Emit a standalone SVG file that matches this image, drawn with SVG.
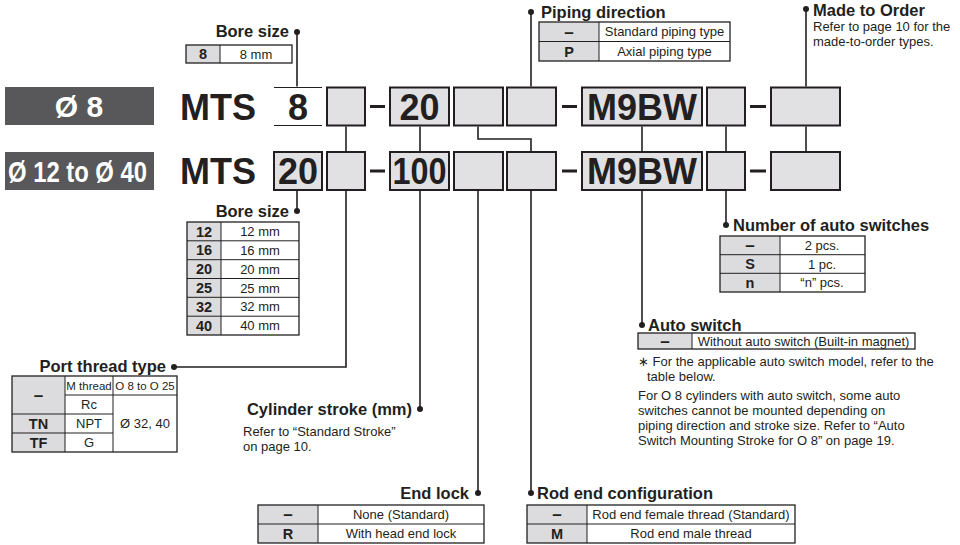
<svg xmlns="http://www.w3.org/2000/svg" width="960" height="545" viewBox="0 0 960 545">
<style>
text{font-family:"Liberation Sans",Arial,sans-serif;fill:#231f20}
.h{font-size:16.5px;font-weight:bold}
.t{font-size:13px}
.s{font-size:11.5px}
.tb{font-size:14.5px;font-weight:bold}
.d{font-size:17px;font-weight:bold}
.big{font-size:36px;font-weight:bold}
.lab{font-size:30px;font-weight:bold;fill:#fff}
.c{text-anchor:middle}
.e{text-anchor:end}
.box{fill:#e1e1e3;stroke:#231f20;stroke-width:2}
.g{fill:#dcdcde}
.tbl{fill:none;stroke:#231f20;stroke-width:1.3}
.ln{stroke:#231f20;stroke-width:1}
.dk{fill:#58585a}
.dash{fill:#231f20}
.con{fill:none;stroke:#231f20;stroke-width:1.6}
.dot{fill:#231f20}
</style>

<g id="label-8">
<rect class="dk" x="5" y="87" width="149" height="38"/>
<text class="lab c" x="79" y="117">Ø 8</text>
</g>
<g id="label-12-40">
<rect class="dk" x="5" y="152" width="149" height="38"/>
<text class="lab" x="8" y="182" font-size="31" textLength="139" lengthAdjust="spacingAndGlyphs">Ø 12 to Ø 40</text>
</g>

<g id="row1">
<text class="big" x="180" y="119.5">MTS</text>
<line class="ln" x1="274" y1="87.5" x2="322" y2="87.5" stroke-width="2"/>
<line class="ln" x1="274" y1="125.5" x2="322" y2="125.5" stroke-width="2"/>
<text class="big c" x="298" y="119.5">8</text>
<rect class="box" x="327" y="87.5" width="38" height="38"/>
<rect class="dash" x="370" y="105" width="15" height="3"/>
<rect class="box" x="390" y="87.5" width="59" height="38"/>
<text class="big c" x="419.5" y="119.5">20</text>
<rect class="box" x="454" y="87.5" width="49" height="38"/>
<rect class="box" x="507" y="87.5" width="49" height="38"/>
<rect class="dash" x="562" y="105" width="15" height="3"/>
<rect class="box" x="582" y="87.5" width="120" height="38"/>
<text class="big c" x="642" y="119.5">M9BW</text>
<rect class="box" x="707" y="87.5" width="38" height="38"/>
<rect class="dash" x="750" y="105" width="16" height="3"/>
<rect class="box" x="771" y="87.5" width="69" height="38"/>
</g>

<g id="row2">
<text class="big" x="180" y="184">MTS</text>
<rect class="box" x="274" y="152" width="48" height="38"/>
<text class="big c" x="298" y="184">20</text>
<rect class="box" x="327" y="152" width="38" height="38"/>
<rect class="dash" x="370" y="169.5" width="15" height="3"/>
<rect class="box" x="390" y="152" width="59" height="38"/>
<text class="big c" x="419.5" y="184" textLength="54" lengthAdjust="spacingAndGlyphs">100</text>
<rect class="box" x="454" y="152" width="49" height="38"/>
<rect class="box" x="507" y="152" width="49" height="38"/>
<rect class="dash" x="562" y="169.5" width="15" height="3"/>
<rect class="box" x="582" y="152" width="120" height="38"/>
<text class="big c" x="642" y="184">M9BW</text>
<rect class="box" x="707" y="152" width="38" height="38"/>
<rect class="dash" x="750" y="169.5" width="16" height="3"/>
<rect class="box" x="771" y="152" width="69" height="38"/>
</g>

<g id="connectors">
<path class="con" d="M297 32V86.5"/>
<path class="con" d="M346 126.5V151"/>
<path class="con" d="M420 126.5V151"/>
<path class="con" d="M478 126.5V139H531V151"/>
<path class="con" d="M531 12V86.5"/>
<path class="con" d="M642 126.5V151"/>
<path class="con" d="M726 126.5V151"/>
<path class="con" d="M806 9V86.5"/>
<path class="con" d="M806 126.5V151"/>
<path class="con" d="M297 191V211"/>
<path class="con" d="M346 191V367H174"/>
<path class="con" d="M420 191V409"/>
<path class="con" d="M478 191V493"/>
<path class="con" d="M531 191V493"/>
<path class="con" d="M642 191V325"/>
<path class="con" d="M726 191V225"/>
<circle class="dot" cx="297" cy="32" r="3"/>
<circle class="dot" cx="531" cy="12" r="3"/>
<circle class="dot" cx="806" cy="9" r="3"/>
<circle class="dot" cx="297" cy="211" r="3"/>
<circle class="dot" cx="174" cy="367" r="3"/>
<circle class="dot" cx="420" cy="409" r="3"/>
<circle class="dot" cx="478" cy="493" r="3"/>
<circle class="dot" cx="531" cy="493" r="3"/>
<circle class="dot" cx="642" cy="325" r="3"/>
<circle class="dot" cx="726" cy="225" r="3"/>
</g>

<g id="bore-size-8">
<text class="h e" x="289" y="37">Bore size</text>
<rect class="g" x="186" y="45" width="34" height="18"/>
<rect class="tbl" x="186" y="45" width="106" height="18"/>
<line class="ln" x1="220" y1="45" x2="220" y2="63"/>
<text class="tb c" x="203" y="59">8</text>
<text class="t c" x="256" y="58.5">8 mm</text>
</g>

<g id="piping-direction">
<text class="h" x="541" y="17.5">Piping direction</text>
<rect class="g" x="539" y="22" width="60" height="39"/>
<rect class="tbl" x="539" y="22" width="191" height="39"/>
<line class="ln" x1="599" y1="22" x2="599" y2="61"/>
<line class="ln" x1="539" y1="41.5" x2="730" y2="41.5"/>
<text class="d c" x="569" y="37.5">–</text>
<text class="t c" x="664.5" y="36.4">Standard piping type</text>
<text class="tb c" x="569" y="56.6">P</text>
<text class="t c" x="664.5" y="55.9">Axial piping type</text>
</g>

<g id="made-to-order">
<text class="h" x="813" y="16">Made to Order</text>
<text class="t" x="813" y="31">Refer to page 10 for the</text>
<text class="t" x="813" y="46">made-to-order types.</text>
</g>

<g id="bore-size">
<text class="h e" x="289" y="216.5">Bore size</text>
<rect class="g" x="187" y="222" width="34" height="113"/>
<rect class="tbl" x="187" y="222" width="112" height="113"/>
<line class="ln" x1="221" y1="222" x2="221" y2="335"/>
<line class="ln" x1="187" y1="240.8" x2="299" y2="240.8"/>
<line class="ln" x1="187" y1="259.7" x2="299" y2="259.7"/>
<line class="ln" x1="187" y1="278.5" x2="299" y2="278.5"/>
<line class="ln" x1="187" y1="297.3" x2="299" y2="297.3"/>
<line class="ln" x1="187" y1="316.2" x2="299" y2="316.2"/>
<text class="tb c" x="204" y="236.6">12</text><text class="t c" x="260" y="236">12 mm</text>
<text class="tb c" x="204" y="255.4">16</text><text class="t c" x="260" y="254.8">16 mm</text>
<text class="tb c" x="204" y="274.3">20</text><text class="t c" x="260" y="273.7">20 mm</text>
<text class="tb c" x="204" y="293.1">25</text><text class="t c" x="260" y="292.5">25 mm</text>
<text class="tb c" x="204" y="311.9">32</text><text class="t c" x="260" y="311.3">32 mm</text>
<text class="tb c" x="204" y="330.8">40</text><text class="t c" x="260" y="330.2">40 mm</text>
</g>

<g id="port-thread-type">
<text class="h e" x="166" y="372">Port thread type</text>
<rect class="g" x="12" y="376" width="53" height="76"/>
<rect class="tbl" x="12" y="376" width="165" height="76"/>
<line class="ln" x1="65" y1="376" x2="65" y2="452"/>
<line class="ln" x1="113" y1="376" x2="113" y2="452"/>
<line class="ln" x1="65" y1="395" x2="177" y2="395"/>
<line class="ln" x1="12" y1="414" x2="113" y2="414"/>
<line class="ln" x1="12" y1="433" x2="113" y2="433"/>
<text class="d c" x="38.5" y="400.5">–</text>
<text class="s c" x="89" y="389.5">M thread</text>
<text class="s c" x="145" y="389.5">O 8 to O 25</text>
<text class="t c" x="89" y="409">Rc</text>
<text class="tb c" x="38.5" y="428.6">TN</text>
<text class="t c" x="89" y="428">NPT</text>
<text class="t c" x="145" y="428">Ø 32, 40</text>
<text class="tb c" x="38.5" y="447.6">TF</text>
<text class="t c" x="89" y="447">G</text>
</g>

<g id="cylinder-stroke">
<text class="h e" x="412" y="414.5">Cylinder stroke (mm)</text>
<text class="t" x="243" y="436">Refer to “Standard Stroke”</text>
<text class="t" x="243" y="451">on page 10.</text>
</g>

<g id="end-lock">
<text class="h e" x="469" y="498.5">End lock</text>
<rect class="g" x="258" y="505" width="60" height="38"/>
<rect class="tbl" x="258" y="505" width="226" height="38"/>
<line class="ln" x1="318" y1="505" x2="318" y2="543"/>
<line class="ln" x1="258" y1="524" x2="484" y2="524"/>
<text class="d c" x="288" y="520">–</text>
<text class="t c" x="401" y="519">None (Standard)</text>
<text class="tb c" x="288" y="539">R</text>
<text class="t c" x="401" y="538">With head end lock</text>
</g>

<g id="rod-end-configuration">
<text class="h" x="537" y="498.5">Rod end configuration</text>
<rect class="g" x="527" y="505" width="60" height="38"/>
<rect class="tbl" x="527" y="505" width="268" height="38"/>
<line class="ln" x1="587" y1="505" x2="587" y2="543"/>
<line class="ln" x1="527" y1="524" x2="795" y2="524"/>
<text class="d c" x="557" y="520">–</text>
<text class="t c" x="691" y="519">Rod end female thread (Standard)</text>
<text class="tb c" x="557" y="539">M</text>
<text class="t c" x="691" y="538">Rod end male thread</text>
</g>

<g id="number-of-auto-switches">
<text class="h" x="733" y="231">Number of auto switches</text>
<rect class="g" x="720" y="236" width="60" height="56"/>
<rect class="tbl" x="720" y="236" width="145" height="56"/>
<line class="ln" x1="780" y1="236" x2="780" y2="292"/>
<line class="ln" x1="720" y1="254.7" x2="865" y2="254.7"/>
<line class="ln" x1="720" y1="273.3" x2="865" y2="273.3"/>
<text class="d c" x="750" y="251">–</text><text class="t c" x="822" y="250">2 pcs.</text>
<text class="tb c" x="750" y="269.3">S</text><text class="t c" x="822" y="268.7">1 pc.</text>
<text class="tb c" x="750" y="287.9">n</text><text class="t c" x="822" y="287.3">“n” pcs.</text>
</g>

<g id="auto-switch">
<text class="h" x="648" y="330.5">Auto switch</text>
<rect class="g" x="638" y="333" width="54" height="16"/>
<rect class="tbl" x="638" y="333" width="277" height="16"/>
<line class="ln" x1="692" y1="333" x2="692" y2="349"/>
<text class="d c" x="665" y="346.6">–</text>
<text class="t c" x="803.5" y="345.6">Without auto switch (Built-in magnet)</text>
<text class="t" x="638" y="366">∗ For the applicable auto switch model, refer to the</text>
<text class="t" x="647" y="381">table below.</text>
<text class="t" x="638" y="400">For O 8 cylinders with auto switch, some auto</text>
<text class="t" x="638" y="415">switches cannot be mounted depending on</text>
<text class="t" x="638" y="430">piping direction and stroke size. Refer to “Auto</text>
<text class="t" x="638" y="445">Switch Mounting Stroke for O 8” on page 19.</text>
</g>
</svg>
